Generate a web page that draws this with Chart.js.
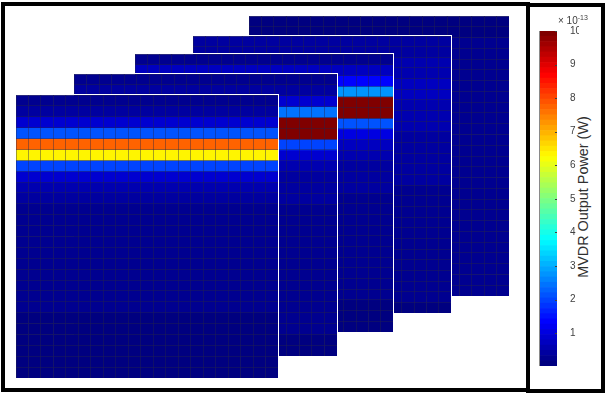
<!DOCTYPE html>
<html>
<head>
<meta charset="utf-8">
<script src="https://cdn.jsdelivr.net/npm/chart.js@4"></script>
<style>
  html, body { margin: 0; padding: 0; background: #fff; overflow: hidden; }
  #page { position: relative; width: 606px; height: 394px; font-family: "Liberation Sans", Arial, sans-serif; }
  #page canvas { position: absolute; }
  .slice { box-shadow: 1px -1px 0 #fff; }
  .frame { position: absolute; box-sizing: border-box; border: 4px solid #000; }
  #multiplier { position: absolute; left: 558px; top: 15px; font-size: 10px; color: #404040; white-space: nowrap; z-index: 2; }
  #multiplier sup { font-size: 7px; line-height: 0; }
  #barLabel { position: absolute; left: 582.5px; top: 197px; font-size: 14.4px; color: #303030; white-space: nowrap;
              transform: translate(-50%, -50%) rotate(-90deg); }
</style>
</head>
<body>
<div id="page">
  <div class="frame" style="left:1px;top:2px;width:529px;height:390px"></div>
  <div class="frame" style="left:526px;top:3px;width:79px;height:390px"></div>
  <div id="multiplier">&times; 10<sup>-13</sup></div>
  <div id="barLabel">MVDR Output Power (W)</div>
</div>
<script>
  // MVDR output power (x 1e-13 W) per range row, one list per slice
  var slice1Power = [0.25, 0.47, 0.95, 2.2, 7.7, 6.4, 2.0, 0.9, 0.55, 0.42, 0.32, 0.28, 0.25, 0.23, 0.22, 0.2, 0.2, 0.19, 0.18, 0.18, 0.17, 0.17, 0.16, 0.16, 0.15, 0.15];
  var slice2Power = [0.28, 0.45, 0.95, 2.5, 10, 10, 1.9, 0.9, 0.6, 0.48, 0.4, 0.35, 0.32, 0.3, 0.28, 0.26, 0.25, 0.24, 0.22, 0.21, 0.2, 0.2, 0.19, 0.18, 0.17, 0.16];
  var slice3Power = [0.3, 0.68, 1.4, 2.7, 10, 10, 2.2, 1.1, 0.7, 0.55, 0.45, 0.4, 0.35, 0.32, 0.3, 0.28, 0.26, 0.24, 0.22, 0.21, 0.2, 0.19, 0.18, 0.17, 0.16, 0.15];
  var slice4Power = [0.38, 0.45, 0.52, 0.62, 0.72, 0.7, 0.62, 0.55, 0.5, 0.47, 0.44, 0.4, 0.37, 0.34, 0.32, 0.3, 0.28, 0.26, 0.25, 0.23, 0.22, 0.21, 0.2, 0.19, 0.18, 0.17];
  var slice5Power = [0.14, 0.16, 0.18, 0.2, 0.22, 0.24, 0.25, 0.26, 0.27, 0.27, 0.27, 0.26, 0.26, 0.25, 0.25, 0.24, 0.24, 0.23, 0.22, 0.22, 0.21, 0.2, 0.2, 0.19, 0.18, 0.18];
  var columns = ["1","2","3","4","5","6","7","8","9","10","11","12","13","14","15","16","17","18","19","20","21"];
  var colorbarTicks = [1, 2, 3, 4, 5, 6, 7, 8, 9, 10];
  var colorbarMin = 0.02;
  var colorbarMax = 10;
  var colorLevels = 64;

  // back to front
  var slices = [slice5Power, slice4Power, slice3Power, slice2Power, slice1Power];
  var sliceBoxes = [
    { left: 249, top: 16, width: 260, height: 280 },
    { left: 193, top: 36, width: 258, height: 277 },
    { left: 135, top: 54, width: 258, height: 278 },
    { left: 74, top: 74, width: 263, height: 282 },
    { left: 16, top: 95, width: 262, height: 283 }
  ];

  function clamp01(x) {
    return Math.max(0, Math.min(1, x));
  }

  // jet colormap, stepped into colorLevels bands like the colorbar
  function jet(value) {
    var t = (value - colorbarMin) / (colorbarMax - colorbarMin);
    var level = Math.max(0, Math.min(colorLevels - 1, Math.floor(t * colorLevels)));
    t = level / (colorLevels - 1);
    var r = clamp01(1.5 - Math.abs(4 * t - 3));
    var g = clamp01(1.5 - Math.abs(4 * t - 2));
    var b = clamp01(1.5 - Math.abs(4 * t - 1));
    return "rgb(" + Math.round(r * 255) + "," + Math.round(g * 255) + "," + Math.round(b * 255) + ")";
  }

  function addCanvas(box) {
    var canvas = document.createElement("canvas");
    canvas.width = box.width;
    canvas.height = box.height;
    canvas.style.left = box.left + "px";
    canvas.style.top = box.top + "px";
    document.getElementById("page").appendChild(canvas);
    return canvas;
  }

  var gridLines = { color: "rgba(35,35,75,0.42)", lineWidth: 1, z: 1, drawTicks: false };

  slices.forEach(function(power, i) {
    var canvas = addCanvas(sliceBoxes[i]);
    canvas.className = "slice";
    new Chart(canvas.getContext("2d"), {
      type: "bar",
      data: {
        labels: columns,
        datasets: power.map(function(value) {
          return {
            data: columns.map(function() { return 1; }),
            backgroundColor: jet(value),
            borderWidth: 0,
            barPercentage: 1,
            categoryPercentage: 1
          };
        })
      },
      options: {
        responsive: false,
        animation: false,
        layout: { padding: 0 },
        plugins: { legend: { display: false }, tooltip: { enabled: false } },
        scales: {
          x: {
            stacked: true,
            grid: gridLines,
            border: { display: false },
            ticks: { display: false, autoSkip: false }
          },
          y: {
            stacked: true,
            reverse: true,
            min: 0,
            max: power.length,
            grid: gridLines,
            border: { display: false },
            ticks: { display: false, autoSkip: false, stepSize: 1 }
          }
        }
      }
    });
  });

  // short inward ticks and the grey edge of the colorbar
  var colorbarEdges = {
    id: "colorbarEdges",
    afterDatasetsDraw: function(chart) {
      var ctx = chart.ctx;
      var area = chart.chartArea;
      var y = chart.scales.y;
      ctx.save();
      ctx.strokeStyle = "#8a8a8a";
      ctx.lineWidth = 1;
      ctx.beginPath();
      ctx.moveTo(area.left + 0.5, area.top);
      ctx.lineTo(area.left + 0.5, area.bottom);
      ctx.stroke();
      ctx.strokeStyle = "#404040";
      ctx.beginPath();
      colorbarTicks.forEach(function(tick) {
        var py = Math.round(y.getPixelForValue(tick - colorbarMin)) + 0.5;
        ctx.moveTo(area.right - 2, py);
        ctx.lineTo(area.right, py);
      });
      ctx.stroke();
      ctx.restore();
    }
  };

  var levelData = [];
  for (var k = 0; k < colorLevels; k++) {
    levelData.push({
      data: [(colorbarMax - colorbarMin) / colorLevels],
      backgroundColor: jet(colorbarMin + (k + 0.5) * (colorbarMax - colorbarMin) / colorLevels),
      borderWidth: 0,
      barPercentage: 1,
      categoryPercentage: 1
    });
  }

  new Chart(addCanvas({ left: 539, top: 20, width: 40, height: 365 }).getContext("2d"), {
    type: "bar",
    data: { labels: ["power"], datasets: levelData },
    options: {
      responsive: false,
      animation: false,
      layout: { padding: { top: 1, bottom: 19, left: 0, right: 0 } },
      plugins: { legend: { display: false }, tooltip: { enabled: false } },
      scales: {
        x: { stacked: true, display: false },
        y: {
          stacked: true,
          position: "right",
          min: 0,
          max: colorbarMax - colorbarMin,
          afterBuildTicks: function(scale) {
            scale.ticks = colorbarTicks.map(function(tick) { return { value: tick - colorbarMin }; });
          },
          afterFit: function(scale) { scale.width = 22; },
          grid: { display: false },
          border: { display: false },
          ticks: {
            padding: 5,
            color: "#404040",
            font: { family: "'Liberation Sans', Arial, sans-serif", size: 10 },
            callback: function(value) { return Math.round(value + colorbarMin); }
          }
        }
      }
    },
    plugins: [colorbarEdges]
  });
</script>
</body>
</html>
